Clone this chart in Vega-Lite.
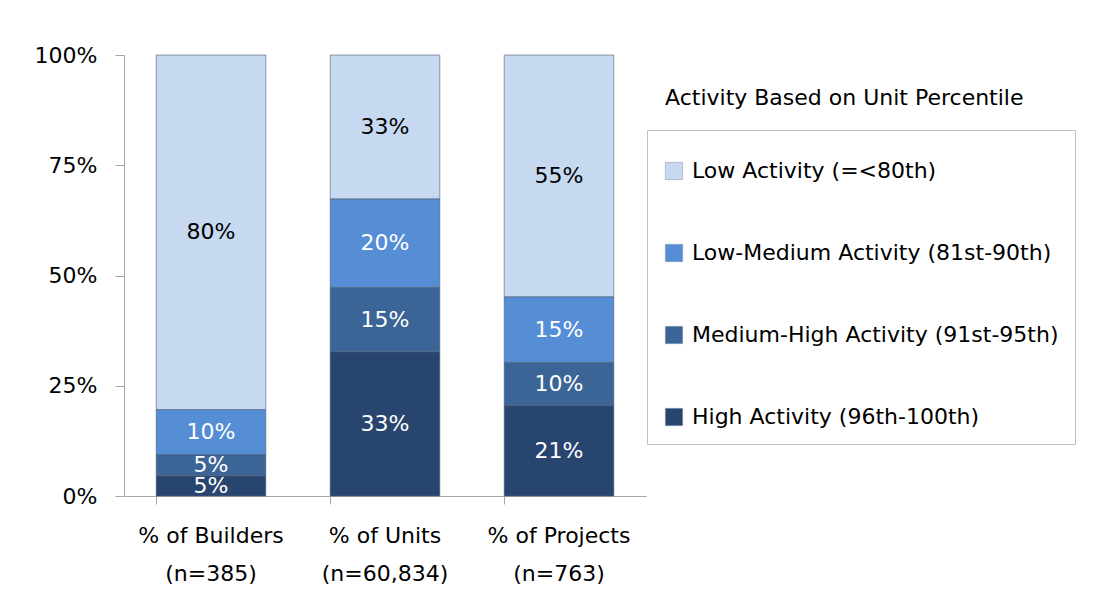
{
  "$schema": "https://vega.github.io/schema/vega-lite/v6.json",
  "autosize": "none",
  "width": 522,
  "height": 441,
  "padding": {"left": 124, "top": 55, "right": 466, "bottom": 118},
  "background": "white",
  "title": {
    "text": "Activity Based on Unit Percentile",
    "anchor": "start",
    "frame": "group",
    "orient": "top",
    "offset": 0,
    "dx": 541,
    "dy": 76,
    "baseline": "middle",
    "font": "DejaVu Sans",
    "fontSize": 22,
    "fontWeight": "normal",
    "color": "#000000"
  },
  "data": {
    "values": [
      {"group": "% of Builders|(n=385)", "activity": "High Activity (96th-100th)", "order": 1, "share": 4.6},
      {"group": "% of Builders|(n=385)", "activity": "Medium-High Activity (91st-95th)", "order": 2, "share": 4.8},
      {"group": "% of Builders|(n=385)", "activity": "Low-Medium Activity (81st-90th)", "order": 3, "share": 10.2},
      {"group": "% of Builders|(n=385)", "activity": "Low Activity (=<80th)", "order": 4, "share": 80.4},
      {"group": "% of Units|(n=60,834)", "activity": "High Activity (96th-100th)", "order": 1, "share": 32.7},
      {"group": "% of Units|(n=60,834)", "activity": "Medium-High Activity (91st-95th)", "order": 2, "share": 14.6},
      {"group": "% of Units|(n=60,834)", "activity": "Low-Medium Activity (81st-90th)", "order": 3, "share": 20.1},
      {"group": "% of Units|(n=60,834)", "activity": "Low Activity (=<80th)", "order": 4, "share": 32.6},
      {"group": "% of Projects|(n=763)", "activity": "High Activity (96th-100th)", "order": 1, "share": 20.6},
      {"group": "% of Projects|(n=763)", "activity": "Medium-High Activity (91st-95th)", "order": 2, "share": 9.7},
      {"group": "% of Projects|(n=763)", "activity": "Low-Medium Activity (81st-90th)", "order": 3, "share": 14.9},
      {"group": "% of Projects|(n=763)", "activity": "Low Activity (=<80th)", "order": 4, "share": 54.8}
    ]
  },
  "transform": [
    {"stack": "share", "groupby": ["group"], "sort": [{"field": "order", "order": "ascending"}], "offset": "normalize", "as": ["y0", "y1"]},
    {"calculate": "(datum.y0 + datum.y1) / 2", "as": "ymid"},
    {"calculate": "datum.share / 100", "as": "frac"}
  ],
  "encoding": {
    "x": {
      "field": "group",
      "type": "nominal",
      "sort": ["% of Builders|(n=385)", "% of Units|(n=60,834)", "% of Projects|(n=763)"],
      "scale": {"paddingInner": 0.37, "paddingOuter": 0.185},
      "axis": {
        "title": null,
        "labelAngle": 0,
        "labelExpr": "split(datum.value, '|')",
        "labelFont": "DejaVu Sans",
        "labelFontSize": 22,
        "labelColor": "#000000",
        "labelLineHeight": 38,
        "labelPadding": 21,
        "labelBaseline": "top",
        "tickSize": 8,
        "tickColor": "#a6a6a6",
        "domainColor": "#a6a6a6",
        "bandPosition": 0
      }
    }
  },
  "layer": [
    {
      "mark": {"type": "bar", "stroke": "#4d5d73", "strokeWidth": 1, "strokeOpacity": 0.6},
      "encoding": {
        "y": {
          "field": "y0",
          "type": "quantitative",
          "scale": {"domain": [0, 1]},
          "axis": {
            "title": null,
            "format": ".0%",
            "values": [0, 0.25, 0.5, 0.75, 1],
            "grid": false,
            "labelFont": "DejaVu Sans",
            "labelFontSize": 22,
            "labelColor": "#000000",
            "labelPadding": 18,
            "tickSize": 9,
            "tickColor": "#a6a6a6",
            "domainColor": "#a6a6a6"
          }
        },
        "y2": {"field": "y1"},
        "color": {
          "field": "activity",
          "type": "nominal",
          "sort": ["Low Activity (=<80th)", "Low-Medium Activity (81st-90th)", "Medium-High Activity (91st-95th)", "High Activity (96th-100th)"],
          "scale": {
            "domain": ["Low Activity (=<80th)", "Low-Medium Activity (81st-90th)", "Medium-High Activity (91st-95th)", "High Activity (96th-100th)"],
            "range": ["#c6d9f1", "#558ed5", "#3b6596", "#284570"]
          },
          "legend": {
            "title": " ",
            "titleFontSize": 2,
            "titlePadding": 12,
            "orient": "none",
            "legendX": 523,
            "legendY": 75,
            "padding": 16,
            "strokeColor": "#bfbfbf",
            "fillColor": "white",
            "symbolType": "square",
            "symbolSize": 300,
            "symbolStrokeColor": "#7f8fa6",
            "symbolStrokeWidth": 0.5,
            "labelFont": "DejaVu Sans",
            "labelFontSize": 22,
            "labelColor": "#000000",
            "labelOffset": 7,
            "labelLimit": 500,
            "rowPadding": 60
          }
        }
      }
    },
    {
      "mark": {"type": "text", "font": "DejaVu Sans", "fontSize": 22, "baseline": "middle"},
      "encoding": {
        "y": {"field": "ymid", "type": "quantitative"},
        "text": {"field": "frac", "type": "quantitative", "format": ".0%"},
        "color": {
          "condition": {"test": "datum.order == 4", "value": "#000000"},
          "value": "#ffffff"
        }
      }
    }
  ],
  "config": {"view": {"stroke": null}}
}
